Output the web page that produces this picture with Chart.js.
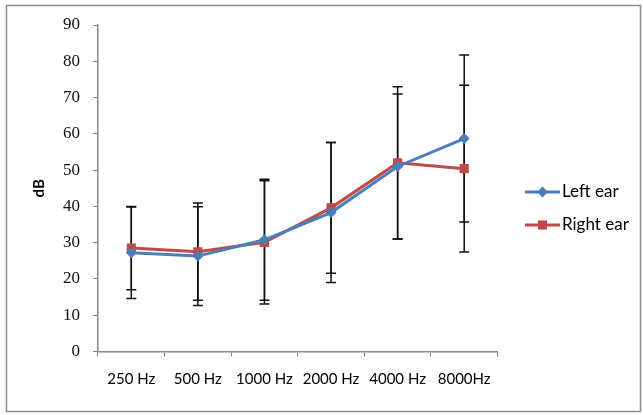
<!DOCTYPE html>
<html lang="en">
<head>
  <meta charset="UTF-8">
  <title>Hearing thresholds</title>
  <script src="https://cdn.jsdelivr.net/npm/chart.js"></script>
  <style>
    html, body { margin: 0; padding: 0; background: #fff; overflow: hidden; }
    .chart-box { position: relative; width: 643px; height: 415px; }
    canvas { display: block; }
  </style>
</head>
<body>
  <div class="chart-box"><canvas id="earChart"></canvas></div>
  <script>
    // data
    const frequencies = ['250 Hz', '500 Hz', '1000 Hz', '2000 Hz', '4000 Hz', '8000Hz'];
    const leftEar = [27.2, 26.3, 30.8, 38.3, 51.0, 58.7];
    const leftEarSD = [12.6, 13.6, 16.7, 19.3, 20.0, 23.0];
    const rightEar = [28.5, 27.5, 30.1, 39.6, 52.0, 50.4];
    const rightEarSD = [11.5, 13.4, 17.0, 18.0, 21.0, 23.0];
    const yTicks = [0, 10, 20, 30, 40, 50, 60, 70, 80, 90];

    // outer frame
    const framePlugin = {
      id: 'frame',
      beforeDraw(chart) {
        const c = chart.ctx;
        c.save();
        c.fillStyle = '#fff';
        c.fillRect(0, 0, chart.width, chart.height);
        c.strokeStyle = '#8c8c8c';
        c.lineWidth = 1.5;
        c.strokeRect(6.5, 5.5, 634, 406);
        c.restore();
      }
    };

    // vertical error bars (mean +/- SD)
    const errorBarPlugin = {
      id: 'errorBars',
      beforeDatasetsDraw(chart) {
        const c = chart.ctx;
        const y = chart.scales.y;
        c.save();
        c.strokeStyle = '#111';
        c.lineWidth = 1.5;
        chart.data.datasets.forEach((ds, i) => {
          const meta = chart.getDatasetMeta(i);
          meta.data.forEach((pt, j) => {
            const hi = y.getPixelForValue(ds.data[j] + ds.sd[j]);
            const lo = y.getPixelForValue(ds.data[j] - ds.sd[j]);
            c.beginPath();
            c.moveTo(pt.x, hi); c.lineTo(pt.x, lo);
            c.moveTo(pt.x - 5, hi); c.lineTo(pt.x + 5, hi);
            c.moveTo(pt.x - 5, lo); c.lineTo(pt.x + 5, lo);
            c.stroke();
          });
        });
        c.restore();
      }
    };

    // legend with line + marker like the original
    const legendPlugin = {
      id: 'sideLegend',
      afterDraw(chart) {
        const c = chart.ctx;
        c.save();
        chart.data.datasets.forEach((ds, i) => {
          const ly = 192 + i * 33;
          c.strokeStyle = ds.borderColor;
          c.lineWidth = 3;
          c.beginPath();
          c.moveTo(525, ly); c.lineTo(560, ly);
          c.stroke();
          c.fillStyle = ds.backgroundColor;
          Chart.helpers.drawPoint(c, { pointStyle: ds.pointStyle, radius: ds.pointRadius, borderWidth: 0 }, 542.5, ly);
          c.fillStyle = '#000';
          c.font = '17px Lato';
          c.textBaseline = 'middle';
          c.textAlign = 'left';
          c.fillText(ds.label, 562, ly);
        });
        c.restore();
      }
    };

    const ctx = document.getElementById('earChart').getContext('2d');
    new Chart(ctx, {
      type: 'line',
      data: {
        labels: frequencies,
        datasets: [
          {
            label: 'Left ear',
            data: leftEar,
            sd: leftEarSD,
            borderColor: '#4a7ebb',
            backgroundColor: '#4a7ebb',
            borderWidth: 3,
            pointStyle: 'rectRot',
            pointRadius: 5.5,
            pointBorderWidth: 0
          },
          {
            label: 'Right ear',
            data: rightEar,
            sd: rightEarSD,
            borderColor: '#be4b48',
            backgroundColor: '#be4b48',
            borderWidth: 3,
            pointStyle: 'rect',
            pointRadius: 6.5,
            pointBorderWidth: 0
          }
        ]
      },
      options: {
        responsive: true,
        maintainAspectRatio: false,
        animation: false,
        layout: { padding: { left: 0, top: 25, right: 145.5, bottom: 0 } },
        plugins: {
          legend: { display: false },
          tooltip: { enabled: false }
        },
        scales: {
          x: {
            offset: true,
            grid: { display: true, drawOnChartArea: false, offset: true, tickLength: 5, color: '#868686' },
            border: { color: '#868686', width: 1.5 },
            ticks: { color: '#000', font: { family: 'Lato', size: 15 }, padding: 14, maxRotation: 0 },
            afterFit: s => { s.height = 63.5; }
          },
          y: {
            min: 0,
            max: 90,
            afterBuildTicks: s => { s.ticks = yTicks.map(v => ({ value: v })); },
            grid: { display: true, drawOnChartArea: false, tickLength: 5, color: '#868686' },
            border: { color: '#868686', width: 1.5 },
            ticks: { color: '#111', font: { family: 'Liberation Serif', size: 17 }, padding: 13 },
            title: { display: true, text: 'dB', color: '#000', font: { family: 'Lato', size: 15, weight: 'bold' }, padding: { top: 30, bottom: 0 } },
            afterFit: s => { s.width = 98; }
          }
        }
      },
      plugins: [framePlugin, errorBarPlugin, legendPlugin]
    });
  </script>
</body>
</html>
